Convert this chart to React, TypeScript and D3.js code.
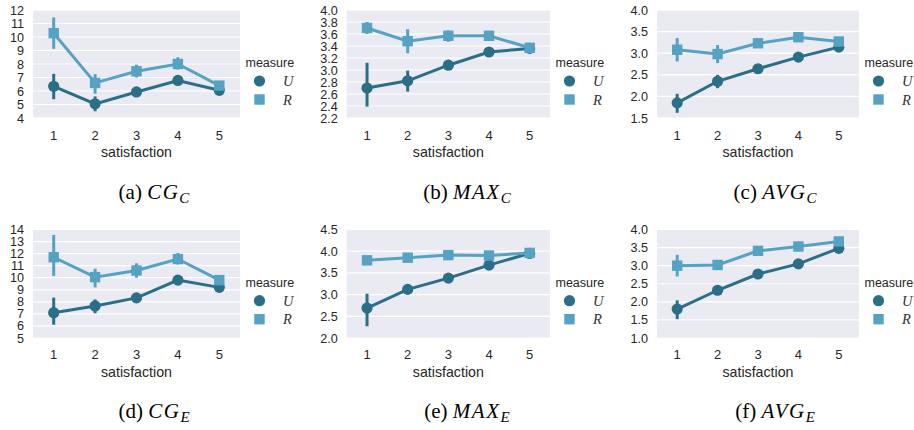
import React from "react";
import * as d3 from "d3";

// ---------- data ----------
const categories = [1, 2, 3, 4, 5];
const seriesNames = ["U", "R"];

// (a) CG_C
const cgC_U = [6.35, 5.05, 5.93, 6.78, 6.05];
const cgC_U_ci = [[5.39, 7.27], [4.5, 5.6], [5.6, 6.2], [6.45, 7.1], [5.9, 6.2]];
const cgC_R = [10.28, 6.6, 7.46, 8.0, 6.4];
const cgC_R_ci = [[9.12, 11.45], [5.8, 7.25], [7.0, 7.95], [7.6, 8.5], [6.2, 6.6]];
const cgC_ticks = [4, 5, 6, 7, 8, 9, 10, 11, 12];

// (b) MAX_C
const maxC_U = [2.7, 2.82, 3.08, 3.3, 3.36];
const maxC_U_ci = [[2.39, 3.12], [2.64, 2.99], [3.0, 3.16], [3.23, 3.36], [3.31, 3.4]];
const maxC_R = [3.7, 3.48, 3.57, 3.57, 3.37];
const maxC_R_ci = [[3.6, 3.8], [3.28, 3.68], [3.47, 3.66], [3.49, 3.64], [3.3, 3.43]];
const maxC_ticks = [2.2, 2.4, 2.6, 2.8, 3.0, 3.2, 3.4, 3.6, 3.8, 4.0];

// (c) AVG_C
const avgC_U = [1.85, 2.35, 2.64, 2.91, 3.14];
const avgC_U_ci = [[1.62, 2.06], [2.19, 2.5], [2.58, 2.7], [2.86, 2.96], [3.09, 3.19]];
const avgC_R = [3.08, 2.98, 3.23, 3.37, 3.27];
const avgC_R_ci = [[2.81, 3.35], [2.77, 3.19], [3.12, 3.35], [3.31, 3.43], [3.22, 3.32]];
const avgC_ticks = [1.5, 2.0, 2.5, 3.0, 3.5, 4.0];

// (d) CG_E
const cgE_U = [7.1, 7.66, 8.33, 9.8, 9.2];
const cgE_U_ci = [[6.1, 8.35], [7.05, 8.2], [8.1, 8.55], [9.4, 10.2], [9.05, 9.35]];
const cgE_R = [11.7, 10.05, 10.6, 11.55, 9.8];
const cgE_R_ci = [[10.15, 13.55], [9.2, 10.75], [10.0, 11.2], [11.1, 12.05], [9.6, 10.0]];
const cgE_ticks = [5, 6, 7, 8, 9, 10, 11, 12, 13, 14];

// (e) MAX_E
const maxE_U = [2.69, 3.12, 3.38, 3.68, 3.95];
const maxE_U_ci = [[2.27, 3.02], [3.07, 3.17], [3.33, 3.43], [3.64, 3.72], [3.92, 3.98]];
const maxE_R = [3.79, 3.85, 3.91, 3.9, 3.96];
const maxE_R_ci = [[3.73, 3.85], [3.8, 3.9], [3.86, 3.96], [3.86, 3.94], [3.93, 3.99]];
const maxE_ticks = [2.0, 2.5, 3.0, 3.5, 4.0, 4.5];

// (f) AVG_E
const avgE_U = [1.8, 2.32, 2.77, 3.05, 3.48];
const avgE_U_ci = [[1.52, 2.04], [2.27, 2.37], [2.72, 2.82], [3.01, 3.09], [3.44, 3.52]];
const avgE_R = [3.0, 3.02, 3.41, 3.53, 3.67];
const avgE_R_ci = [[2.7, 3.3], [2.96, 3.08], [3.36, 3.46], [3.49, 3.57], [3.62, 3.72]];
const avgE_ticks = [1.0, 1.5, 2.0, 2.5, 3.0, 3.5, 4.0];

const captionLetters = ["a", "b", "c", "d", "e", "f"];
const captionNames = ["CG", "MAX", "AVG", "CG", "MAX", "AVG"];
const captionSubs = ["C", "C", "C", "E", "E", "E"];

// ---------- layout / style ----------
const W = 914;
const H = 430;
const COLORS = ["#2b6e87", "#55a2c3"];
const BG = "#eaeaf2";
const TXT = "#262626";
const SANS = "'Liberation Sans', Arial, sans-serif";
const SERIF = "'Liberation Serif', 'Times New Roman', serif";

const COLS = [
  { x0: 33, x1: 240, cap: 154 },
  { x0: 346.7, x1: 550, cap: 467 },
  { x0: 657, x1: 859, cap: 775 },
];
const ROWS = [
  { top: 10, bottom: 118, tickY: 139.6, labelY: 157.3, legY: 63, capY: 199 },
  { top: 229.5, bottom: 338, tickY: 358.6, labelY: 377, legY: 282.7, capY: 418 },
];

const panels = [
  { U: cgC_U, Uci: cgC_U_ci, R: cgC_R, Rci: cgC_R_ci, ticks: cgC_ticks, fmt: "d" },
  { U: maxC_U, Uci: maxC_U_ci, R: maxC_R, Rci: maxC_R_ci, ticks: maxC_ticks, fmt: ".1f" },
  { U: avgC_U, Uci: avgC_U_ci, R: avgC_R, Rci: avgC_R_ci, ticks: avgC_ticks, fmt: ".1f" },
  { U: cgE_U, Uci: cgE_U_ci, R: cgE_R, Rci: cgE_R_ci, ticks: cgE_ticks, fmt: "d" },
  { U: maxE_U, Uci: maxE_U_ci, R: maxE_R, Rci: maxE_R_ci, ticks: maxE_ticks, fmt: ".1f" },
  { U: avgE_U, Uci: avgE_U_ci, R: avgE_R, Rci: avgE_R_ci, ticks: avgE_ticks, fmt: ".1f" },
];

function Marker({ kind, x, y, color }: { kind: number; x: number; y: number; color: string }) {
  if (kind === 0) return <circle cx={x} cy={y} r={5.6} fill={color} />;
  return <rect x={x - 5.2} y={y - 5.2} width={10.4} height={10.4} fill={color} />;
}

function Panel({ idx }: { idx: number }) {
  const p = panels[idx];
  const col = COLS[idx % 3];
  const row = ROWS[Math.floor(idx / 3)];
  const x = d3.scalePoint<number>().domain(categories).range([col.x0, col.x1]).padding(0.5);
  const ticks = p.ticks;
  const y = d3.scaleLinear().domain([ticks[0], ticks[ticks.length - 1]]).range([row.bottom, row.top]);
  const fmt = d3.format(p.fmt);
  const line = d3
    .line<number>()
    .x((_, i) => x(categories[i]) as number)
    .y((d) => y(d));
  const series = [
    { vals: p.U, ci: p.Uci },
    { vals: p.R, ci: p.Rci },
  ];
  return (
    <g>
      <rect x={col.x0} y={row.top} width={col.x1 - col.x0} height={row.bottom - row.top} fill={BG} />
      {ticks.map((t) => (
        <line key={"g" + t} x1={col.x0} x2={col.x1} y1={y(t)} y2={y(t)} stroke="#fff" strokeWidth={1.2} />
      ))}
      {ticks.map((t) => (
        <text
          key={"t" + t}
          x={col.x0 - 9}
          y={y(t)}
          dy="0.36em"
          textAnchor="end"
          fontFamily={SANS}
          fontSize={12.6}
          fill={TXT}
        >
          {fmt(t)}
        </text>
      ))}
      {categories.map((c) => (
        <text key={"x" + c} x={x(c)} y={row.tickY} textAnchor="middle" fontFamily={SANS} fontSize={13} fill={TXT}>
          {c}
        </text>
      ))}
      <text
        x={(col.x0 + col.x1) / 2}
        y={row.labelY}
        textAnchor="middle"
        fontFamily={SANS}
        fontSize={14.2}
        fill={TXT}
      >
        satisfaction
      </text>
      {series.map((s, si) => (
        <g key={"s" + si}>
          <path d={line(s.vals) || ""} fill="none" stroke={COLORS[si]} strokeWidth={3} />
          {s.ci.map((ci, i) => (
            <line
              key={"e" + i}
              x1={x(categories[i])}
              x2={x(categories[i])}
              y1={y(ci[0])}
              y2={y(ci[1])}
              stroke={COLORS[si]}
              strokeWidth={3}
            />
          ))}
          {s.vals.map((v, i) => (
            <Marker key={"m" + i} kind={si} x={x(categories[i]) as number} y={y(v)} color={COLORS[si]} />
          ))}
        </g>
      ))}
      {/* legend */}
      <text x={col.x1 + 5.5} y={row.legY} dy="0.32em" fontFamily={SANS} fontSize={12.5} fill={TXT}>
        measure
      </text>
      {seriesNames.map((n, si) => (
        <g key={"l" + n}>
          <Marker kind={si} x={col.x1 + 19.5} y={row.legY + 18 + si * 18.5} color={COLORS[si]} />
          <text
            x={col.x1 + 43}
            y={row.legY + 18 + si * 18.5}
            dy="0.35em"
            fontFamily={SERIF}
            fontStyle="italic"
            fontSize={14.5}
            fill="#333"
          >
            {n}
          </text>
        </g>
      ))}
      {/* caption */}
      <text x={col.cap} y={row.capY} textAnchor="middle" fontFamily={SERIF} fontSize={21} fill="#000">
        {"(" + captionLetters[idx] + ") "}
        <tspan fontStyle="italic" letterSpacing={1.5}>
          {captionNames[idx]}
        </tspan>
        <tspan fontStyle="italic" fontSize={15} dy={4}>
          {captionSubs[idx]}
        </tspan>
      </text>
    </g>
  );
}

export default function App() {
  return (
    <svg
      width={W}
      height={H}
      viewBox={`0 0 ${W} ${H}`}
      style={{ position: "absolute", left: 0, top: 0, background: "#fff" }}
    >
      {panels.map((_, i) => (
        <Panel key={i} idx={i} />
      ))}
    </svg>
  );
}
